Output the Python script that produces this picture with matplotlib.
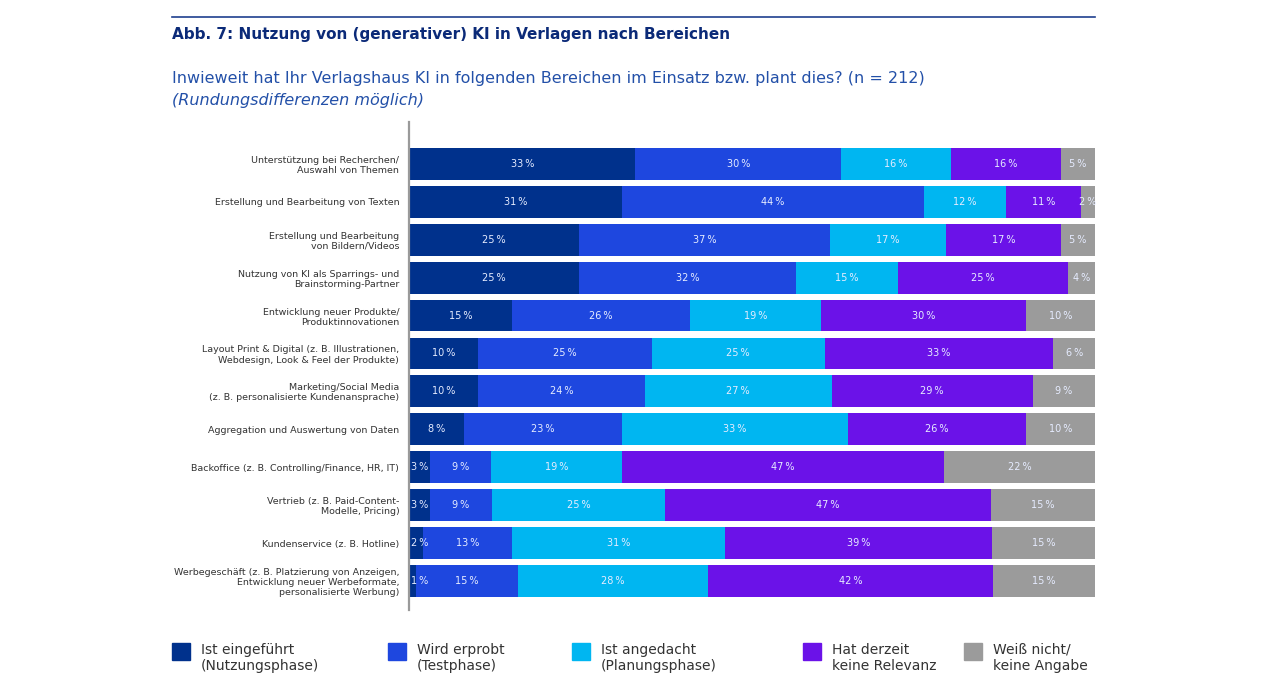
import matplotlib.pyplot as plt
import numpy as np
from matplotlib.patches import Rectangle

categories = [
    "Unterstützung bei Recherchen/\nAuswahl von Themen",
    "Erstellung und Bearbeitung von Texten",
    "Erstellung und Bearbeitung\nvon Bildern/Videos",
    "Nutzung von KI als Sparrings- und\nBrainstorming-Partner",
    "Entwicklung neuer Produkte/\nProduktinnovationen",
    "Layout Print & Digital (z. B. Illustrationen,\nWebdesign, Look & Feel der Produkte)",
    "Marketing/Social Media\n(z. B. personalisierte Kundenansprache)",
    "Aggregation und Auswertung von Daten",
    "Backoffice (z. B. Controlling/Finance, HR, IT)",
    "Vertrieb (z. B. Paid-Content-\nModelle, Pricing)",
    "Kundenservice (z. B. Hotline)",
    "Werbegeschäft (z. B. Platzierung von Anzeigen,\nEntwicklung neuer Werbeformate,\npersonalisierte Werbung)",
]

eingefuehrt = [33, 31, 25, 25, 15, 10, 10, 8, 3, 3, 2, 1]
erprobt = [30, 44, 37, 32, 26, 25, 24, 23, 9, 9, 13, 15]
angedacht = [16, 12, 17, 15, 19, 25, 27, 33, 19, 25, 31, 28]
keine_relevanz = [16, 11, 17, 25, 30, 33, 29, 26, 47, 47, 39, 42]
weiss_nicht = [5, 2, 5, 4, 10, 6, 9, 10, 22, 15, 15, 15]

series_labels = [
    "Ist eingeführt\n(Nutzungsphase)",
    "Wird erprobt\n(Testphase)",
    "Ist angedacht\n(Planungsphase)",
    "Hat derzeit\nkeine Relevanz",
    "Weiß nicht/\nkeine Angabe",
]
colors = ["#00318C", "#1E47DF", "#00B6F1", "#6B12E8", "#9B9B9B"]

W, H = 1270, 680
fig = plt.figure(figsize=(W / 100, H / 100), dpi=100)
fig.patch.set_facecolor("white")

# header
fig.add_artist(plt.Line2D([172 / W, 1095 / W], [1 - 17 / H, 1 - 17 / H], color="#1F3F8F", linewidth=1.2))
fig.text(172 / W, 1 - 35 / H, "Abb. 7: Nutzung von (generativer) KI in Verlagen nach Bereichen",
         fontsize=11, fontweight="bold", color="#0B2A78", va="center", ha="left")
fig.text(172 / W, 1 - 78 / H,
         "Inwieweit hat Ihr Verlagshaus KI in folgenden Bereichen im Einsatz bzw. plant dies? (n = 212)",
         fontsize=11.5, color="#2350A8", va="center", ha="left")
fig.text(172 / W, 1 - 101 / H, "(Rundungsdifferenzen möglich)",
         fontsize=11.5, color="#2350A8", va="center", ha="left", style="italic")

ax = fig.add_axes([409 / W, 1 - 610 / H, (1095 - 409) / W, (610 - 122) / H])
data = np.array([eingefuehrt, erprobt, angedacht, keine_relevanz, weiss_nicht], dtype=float)
totals = data.sum(axis=0)
shares = data / totals * 100
y = np.arange(len(categories))
left = np.zeros(len(categories))
for i in range(len(series_labels)):
    ax.barh(y, shares[i], left=left, height=0.84, color=colors[i], edgecolor="none")
    for j in range(len(categories)):
        # tiny first segments: label pushed slightly right so it stays readable
        xpos = left[j] + max(shares[i][j] / 2, 1.6) if i == 0 else left[j] + shares[i][j] / 2
        ax.text(xpos, y[j], f"{int(data[i][j])}\u2009%",
                ha="center", va="center", fontsize=7, color="#E6ECFF")
    left += shares[i]

ax.set_xlim(0, 100)
ax.set_ylim(11.76, -1.1)
ax.set_yticks(y)
ax.set_yticklabels(categories, fontsize=6.8, color="#333333", linespacing=1.15)
ax.tick_params(axis="y", length=0, pad=7)
ax.set_xticks([])
for side in ["top", "right", "bottom"]:
    ax.spines[side].set_visible(False)
ax.spines["left"].set_color("#9A9A9A")
ax.spines["left"].set_linewidth(1.6)

# legend
legend_x = [172, 388, 572, 803, 964]
for lx, lab, col in zip(legend_x, series_labels, colors):
    fig.add_artist(Rectangle((lx / W, 1 - 660 / H), 18 / W, 17 / H, color=col,
                             transform=fig.transFigure))
    fig.text((lx + 29) / W, 1 - 658 / H, lab, fontsize=10, color="#333333",
             va="center", ha="left", linespacing=1.2)

fig.savefig("out.png", dpi=100, facecolor=fig.get_facecolor())
plt.close(fig)
